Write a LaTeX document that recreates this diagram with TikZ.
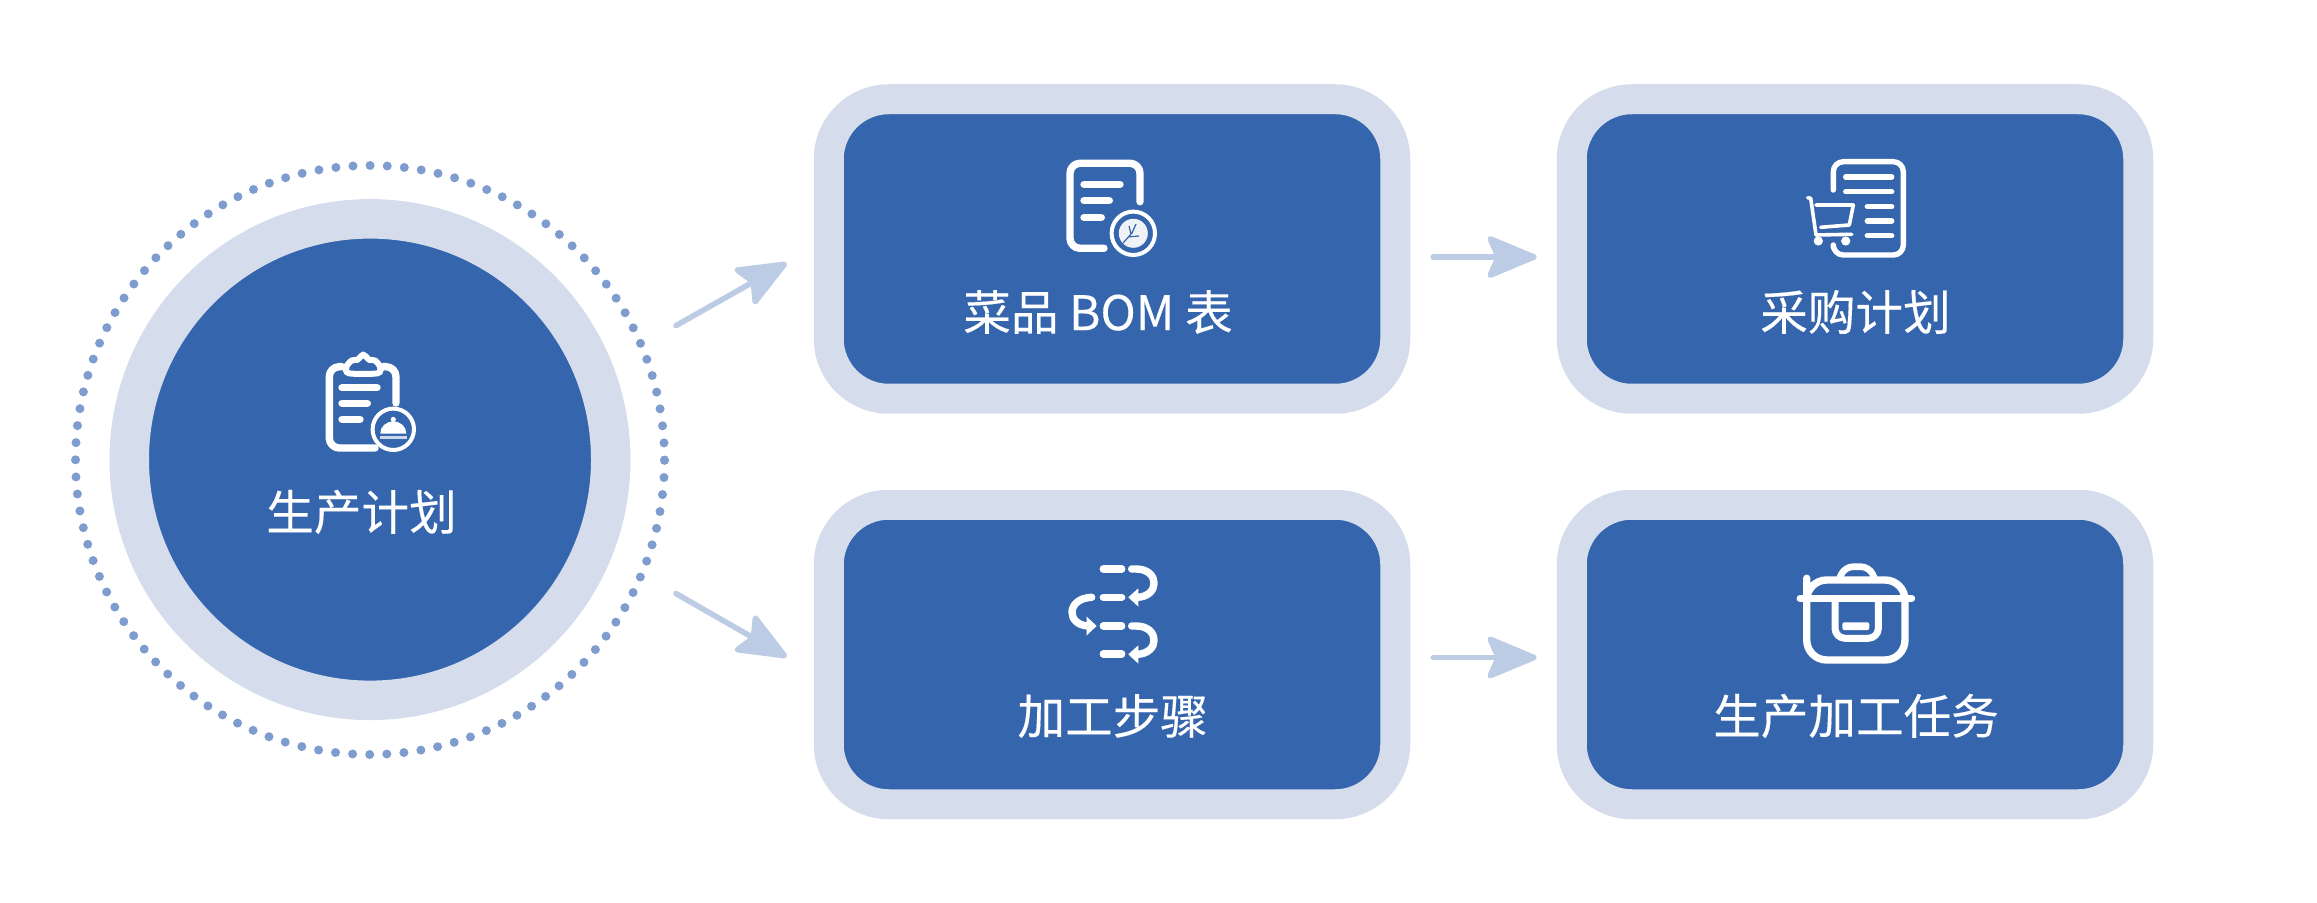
\documentclass[tikz,border=0pt]{standalone}
\usepackage{fontspec}
\setmainfont[FakeBold=0.25]{Noto Sans CJK SC}
\usetikzlibrary{arrows.meta}
\definecolor{boxblue}{HTML}{3565AD}
\definecolor{ringblue}{HTML}{D5DDED}
\definecolor{arrowblue}{HTML}{BCCCE5}
\definecolor{dotblue}{HTML}{7E9CCD}
\begin{document}
\begin{tikzpicture}[x=0.5pt, y=-0.5pt,
    taskbox/.style={draw=ringblue, fill=boxblue, line width=15pt, rounded corners=30pt,
      minimum width=283.25pt, minimum height=149.75pt, inner sep=0pt},
    boxlabel/.style={text=white, font=\fontsize{23.8}{28}\selectfont, inner sep=0pt},
    flow/.style={draw=arrowblue, line width=2.8pt, line cap=round,
      -{Stealth[length=28pt, width=23pt, inset=5pt, round]}},
    icon/.style={draw=white, line width=3.7pt, line cap=round, line join=round, rounded corners=5pt},
    thinicon/.style={icon, line width=2.7pt},
    badge/.style={draw=white, line width=2pt}]
  \useasboundingbox (0,0) rectangle (2317,903);
  \node[circle, draw=dotblue, line width=4.5pt, line cap=round, dash pattern=on 0pt off 8.566pt,
    minimum size=294.5pt, inner sep=0pt] (dots) at (370,460) {};
  \node[circle, draw=ringblue, fill=boxblue, line width=19.75pt, minimum size=240.75pt, inner sep=0pt] (plan) at (370,459.6) {};
  \node[taskbox] (bom) at (1112,249) {};
  \node[taskbox] (purchase) at (1855,249) {};
  \node[taskbox] (steps) at (1112,654.5) {};
  \node[taskbox] (task) at (1855,654.5) {};
  \node[boxlabel] (planlabel) at (361.5,512) {生产计划};
  \node[boxlabel] (bomlabel) at (1098,312) {菜品 BOM 表};
  \node[boxlabel] (purchaselabel) at (1855.5,312) {采购计划};
  \node[boxlabel] (stepslabel) at (1112.7,716) {加工步骤};
  \node[boxlabel] (tasklabel) at (1856,716) {生产加工任务};
  % arrows
  \draw[flow] ([shift={(45.5,-134)}]plan.east) -- ([shift={(-27,14)}]bom.west);
  \draw[flow] ([shift={(45.5,134)}]plan.east) -- ([shift={(-27,2.5)}]steps.west);
  \draw[flow] ([shift={(23,8)}]bom.east) -- ([shift={(-20,8)}]purchase.west);
  \draw[flow] ([shift={(23,3)}]steps.east) -- ([shift={(-20,3)}]task.west);
  % clipboard
  \draw[icon] (342,366.7) -- (329.3,366.7) -- (329.3,448) -- (375,448);
  \draw[icon] (383,366.7) -- (396,366.7) -- (396,403);
  \draw[draw=white, line width=3pt] plot[smooth cycle] coordinates {(349,373.3) (346.5,366.7) (351.7,360.5)
    (357.3,359.8) (363.3,354.8) (369.3,359.8) (375,360.5) (380,366.7) (377.5,373.3)};
  \foreach \xa/\ya in {377/387.7, 367.3/403.3, 360/419.3}{
    \draw[icon] (342,\ya) -- (\xa,\ya);
  }
  \draw[badge] (393.3,429.3) circle (20.7);
  \fill[white] (380.3,433.5) .. controls (380.3,426.5) and (386,421.5) .. (393.3,421.5)
    .. controls (400.6,421.5) and (406.3,426.5) .. (406.3,433.5) -- cycle;
  \fill[white] (393.3,419.5) circle (2.6);
  \draw[white!75!boxblue, line width=1.2pt] (380,437.3) -- (406.5,437.3);
  % document with lettuce
  \draw[icon] (1140,201.7) -- (1140,163.3) -- (1070,163.3) -- (1070,248.3) -- (1104,248.3);
  \foreach \xa/\ya in {1120/184.3, 1109.3/200.7, 1101.3/217.7}{
    \draw[icon] (1084,\ya) -- (\xa,\ya);
  }
  \draw[badge] (1133.3,233.3) circle (21.7);
  \fill[white!92!boxblue] (1133.3,233.3) circle (14.5);
  \draw[boxblue, line width=0.6pt] (1123,243) -- (1132,233) -- (1136,224) (1128,237) -- (1139,236) (1131,234) -- (1129,226);
  % cart and list
  \draw[thinicon] (1833.3,190) -- (1833.3,161.7) -- (1903.3,161.7) -- (1903.3,255) -- (1833.3,255) -- (1833.3,247.3);
  \foreach \xa/\ya in {1845.7/177, 1845.7/191.7, 1867.3/206.7, 1867.3/221, 1867.3/235.7}{
    \draw[thinicon] (\xa,\ya) -- (1891.7,\ya);
  }
  \draw[white, line width=1.8pt, line cap=round, line join=round] (1807.7,197.7) -- (1810.7,198.3) -- (1816,235) -- (1851.7,234.3);
  \draw[white, line width=1.8pt, line cap=round, line join=round] (1816,205) -- (1853.3,205) -- (1849.3,225) -- (1820.7,227.3);
  \fill[white] (1818.3,241) circle (4.6) (1845.7,241) circle (4.6);
  % process steps
  \foreach \ya in {569, 597.3, 626, 654}{
    \draw[icon] (1103.3,\ya) -- (1121.7,\ya);
  }
  \foreach \ya in {569, 626}{
    \draw[icon, sharp corners] (1131.7,\ya) -- (1136,\ya) .. controls (1160,\ya) and (1160,\ya+28) .. (1136.7,\ya+28.3);
    \fill[white] (1128.3,\ya+28.3) -- (1138.3,\ya+19.3) -- (1138.3,\ya+37.7) -- cycle;
  }
  \draw[icon, sharp corners] (1091.7,597.3) .. controls (1066,598.3) and (1066,625) .. (1088.3,626);
  \fill[white] (1096.7,626) -- (1086.7,616.7) -- (1086.7,635.3) -- cycle;
  % cooker
  \draw[icon, line width=3.7pt, rounded corners=10pt] (1806.7,598.3) -- (1806.7,580) -- (1905,580) -- (1905,660) -- (1806.7,660) -- cycle;
  \draw[icon, line width=3.5pt] (1800,598.3) -- (1911.7,598.3);
  \draw[icon, line width=3.3pt, rounded corners=4pt] (1840,577) -- (1845,566.7) -- (1869,566.7) -- (1874,577);
  \draw[icon, line width=3.5pt] (1835,598.3) -- (1835,638.3) -- (1878.3,638.3) -- (1878.3,598.3);
  \fill[white, rounded corners=1pt] (1842.3,622.3) rectangle (1869.3,630);
\end{tikzpicture}
\end{document}
